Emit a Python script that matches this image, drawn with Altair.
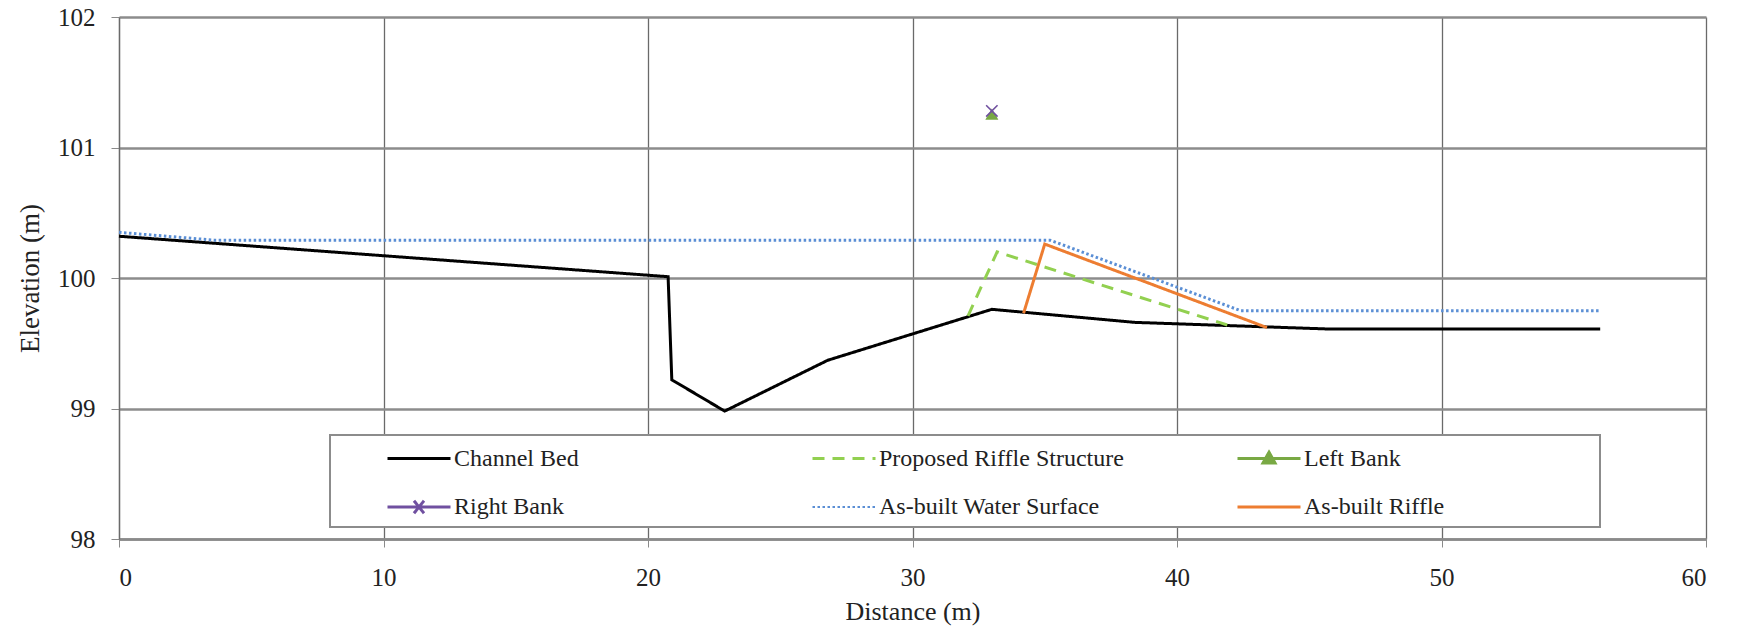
import altair as alt
import pandas as pd

# ---- data ----
series_order = ["Channel Bed", "Proposed Riffle Structure", "Left Bank",
                "Right Bank", "As-built Water Surface", "As-built Riffle"]
series_colors = ["#000000", "#92D050", "#79A944", "#7050A0", "#5B8FD5", "#ED7D31"]
series_dashes = [[1, 0], [12, 8], [1, 0], [1, 0], [2.5, 2.5], [1, 0]]

bed_x = [0, 20.76, 20.9, 22.9, 26.8, 33.0, 38.4, 45.6, 56.0]
bed_y = [100.32, 100.01, 99.22, 98.98, 99.37, 99.76, 99.66, 99.61, 99.61]

proposed_x = [32.1, 33.2, 41.9]
proposed_y = [99.71, 100.20, 99.64]

water_x = [0, 3.6, 35.2, 42.4, 56.0]
water_y = [100.35, 100.29, 100.29, 99.75, 99.75]

riffle_x = [34.2, 35.0, 43.4]
riffle_y = [99.73, 100.26, 99.62]

left_bank_x = [33.0]
left_bank_y = [101.255]
right_bank_x = [33.0]
right_bank_y = [101.28]

x_ticks = [0, 10, 20, 30, 40, 50, 60]
y_ticks = [98, 99, 100, 101, 102]

# ---- tables ----
rows = []
for name, xs, ys in [("Channel Bed", bed_x, bed_y),
                     ("Proposed Riffle Structure", proposed_x, proposed_y),
                     ("As-built Water Surface", water_x, water_y),
                     ("As-built Riffle", riffle_x, riffle_y)]:
    for i, (xv, yv) in enumerate(zip(xs, ys)):
        rows.append({"series": name, "x": xv, "y": yv, "i": i})
lines_df = pd.DataFrame(rows)
left_df = pd.DataFrame({"x": left_bank_x, "y": left_bank_y})
right_df = pd.DataFrame({"x": right_bank_x, "y": right_bank_y})

FONT = "Liberation Serif, Times New Roman, DejaVu Serif, serif"

x_scale = alt.Scale(domain=[0, 60], nice=False, zero=False)
y_scale = alt.Scale(domain=[98, 102], nice=False, zero=False)

x_axis = alt.Axis(values=x_ticks, title="Distance (m)", format="d",
                  grid=True, gridColor="#6a6a6a", gridWidth=1.3,
                  labelFontSize=25, titleFontSize=26, titleFontWeight="normal",
                  labelPadding=18, titlePadding=8, tickSize=8,
                  tickColor="#8a8a8a", domainColor="#8a8a8a", domainWidth=2.5)
y_axis = alt.Axis(values=y_ticks, title="Elevation (m)", format="d",
                  grid=True, gridColor="#8c8c8c", gridWidth=2.5,
                  labelFontSize=25, titleFontSize=27, titleFontWeight="normal",
                  labelPadding=16, titlePadding=13, tickSize=8,
                  tickColor="#8a8a8a", domainColor="#6a6a6a", domainWidth=1.3)

shape_expr = ("datum.value == 'Left Bank' ? 'M-1,0H1M0,-0.2L0.19,0.14H-0.19Z' : "
              "datum.value == 'Right Bank' ? 'M-1,0H1M-0.16,-0.2L0.16,0.2M-0.16,0.2L0.16,-0.2' : 'stroke'")
fill_expr = "datum.value == 'Left Bank' ? '#79A944' : 'transparent'"
sw_expr = "datum.value == 'As-built Water Surface' ? 2 : 3"

leg = alt.Legend(title=None,
                 symbolType=alt.ExprRef(expr=shape_expr),
                 symbolFillColor=alt.ExprRef(expr=fill_expr),
                 symbolStrokeWidth=alt.ExprRef(expr=sw_expr))

frame = alt.Chart(pd.DataFrame({"a": [0]})).mark_rect(
    fill="white", stroke="#8c8c8c", strokeWidth=2
).encode(x=alt.value(211), x2=alt.value(1481), y=alt.value(418), y2=alt.value(510))

lines = alt.Chart(lines_df).mark_line(strokeWidth=3).encode(
    x=alt.X("x:Q", scale=x_scale, axis=x_axis),
    y=alt.Y("y:Q", scale=y_scale, axis=y_axis),
    color=alt.Color("series:N", scale=alt.Scale(domain=series_order, range=series_colors), legend=leg),
    strokeDash=alt.StrokeDash("series:N", scale=alt.Scale(domain=series_order, range=series_dashes), legend=leg),
    strokeWidth=alt.condition("datum.series == 'As-built Water Surface'", alt.value(2), alt.value(3)),
    order=alt.Order("i:Q"),
)

left_pts = alt.Chart(left_df).mark_point(
    shape="triangle-up", filled=True, size=170, color="#79A944", opacity=1
).encode(x=alt.X("x:Q", scale=x_scale), y=alt.Y("y:Q", scale=y_scale))

right_pts = alt.Chart(right_df).mark_point(
    shape="M-1,-1L1,1M-1,1L1,-1", filled=False, size=130, color="#7050A0",
    strokeWidth=1.6, opacity=1
).encode(x=alt.X("x:Q", scale=x_scale), y=alt.Y("y:Q", scale=y_scale))

chart = alt.layer(frame, lines, left_pts, right_pts).properties(
    width=1587, height=522,
    autosize=alt.AutoSizeParams(type="none"),
    padding={"left": 119, "top": 17, "right": 37, "bottom": 93},
    background="white",
).configure(font=FONT).configure_view(stroke=None).configure_axis(
    labelFont=FONT, titleFont=FONT, labelColor="#222", titleColor="#222"
).configure_legend(
    orient="none", legendX=288, legendY=429, columns=3, direction="horizontal",
    gridAlign="all", columnPadding=107, rowPadding=23,
    symbolSize=3969,
    labelFont=FONT, labelFontSize=24, labelColor="#222", labelOffset=23,
    labelLimit=500, padding=0,
)

chart.save("out.html", embed_options={"renderer": "svg", "actions": False})
